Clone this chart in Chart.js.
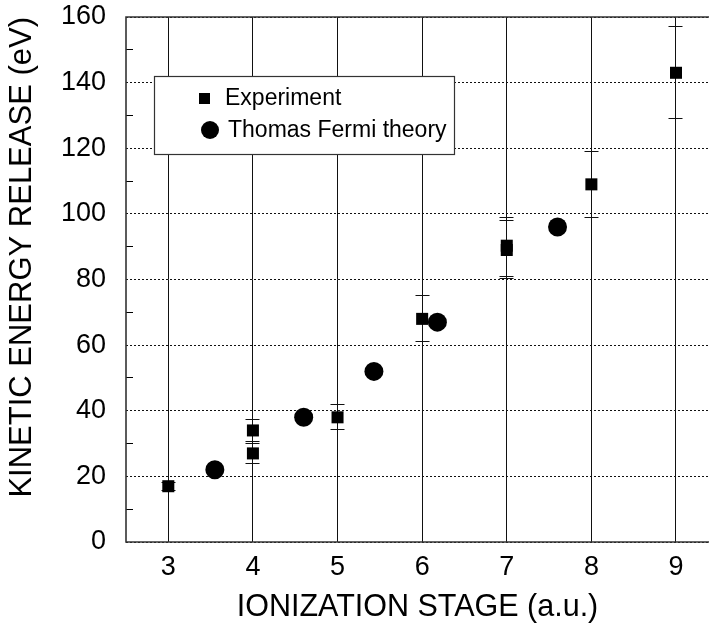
<!DOCTYPE html>
<html lang="en">

<head>
  <meta charset="UTF-8" />
  <title>Kinetic Energy Release</title>
  <script src="https://cdn.jsdelivr.net/npm/chart.js"></script>
  <style>
    * {
      margin: 0;
      padding: 0;
      box-sizing: border-box;
    }

    body {
      background: #fff;
      width: 709px;
      height: 626px;
      overflow: hidden;
    }
  </style>
</head>

<body>
  <canvas id="kerChart" width="709" height="626"></canvas>

  <script>
    // axis ticks
    const xTicks = [3, 4, 5, 6, 7, 8, 9];
    const yTicks = [0, 20, 40, 60, 80, 100, 120, 140, 160];
    const yMinorTicks = [10, 30, 50, 70, 90, 110, 130, 150];

    // experiment (squares) with error bars
    const expStage = [3, 4, 4, 5, 6, 7, 7, 8, 9];
    const expEnergy = [17, 34, 27, 38, 68, 89, 90.3, 109, 143];
    const expLow = [15.8, 30.6, 24, 34.2, 61, 80.2, 80.8, 98.9, 129];
    const expHigh = [18.2, 37.3, 30.1, 41.8, 75, 98, 98.8, 119, 157];

    // Thomas Fermi theory (circles)
    const tfStage = [3.55, 4.6, 5.43, 6.18, 7.6];
    const tfEnergy = [22, 38, 52, 67, 96];

    const FONT = '"Liberation Sans", Arial, Helvetica, sans-serif';

    // same snapping as the library's grid lines
    const snap = p => Math.round(p - 0.5) + 0.5;

    const framePlugin = {
      id: 'frame',
      beforeDatasetsDraw(chart) {
        const { ctx, chartArea: a, scales } = chart;
        ctx.save();
        // minor ticks on the left axis
        ctx.strokeStyle = '#000';
        ctx.lineWidth = 1;
        yMinorTicks.forEach(v => {
          const y = snap(scales.y.getPixelForValue(v));
          ctx.beginPath();
          ctx.moveTo(a.left, y);
          ctx.lineTo(a.left + 7, y);
          ctx.stroke();
        });
        // error bars
        ctx.strokeStyle = '#111';
        expStage.forEach((s, i) => {
          const x = snap(scales.x.getPixelForValue(s));
          const yl = snap(scales.y.getPixelForValue(expLow[i]));
          const yh = snap(scales.y.getPixelForValue(expHigh[i]));
          ctx.beginPath();
          ctx.moveTo(x, yl);
          ctx.lineTo(x, yh);
          ctx.moveTo(x - 7, yl);
          ctx.lineTo(x + 7, yl);
          ctx.moveTo(x - 7, yh);
          ctx.lineTo(x + 7, yh);
          ctx.stroke();
        });
        // frame: left, top, bottom
        ctx.strokeStyle = '#333';
        ctx.lineWidth = 1.6;
        ctx.beginPath();
        ctx.moveTo(chart.width, a.top);
        ctx.lineTo(a.left, a.top);
        ctx.lineTo(a.left, a.bottom);
        ctx.lineTo(chart.width, a.bottom);
        ctx.stroke();
        ctx.restore();
      },
      afterDatasetsDraw(chart) {
        const { ctx } = chart;
        const bx = 154, by = 76, bw = 300, bh = 78;
        ctx.save();
        ctx.fillStyle = '#fff';
        ctx.fillRect(bx, by, bw, bh);
        ctx.strokeStyle = '#333';
        ctx.lineWidth = 1.2;
        ctx.strokeRect(bx + 0.5, by + 0.5, bw, bh);
        ctx.fillStyle = '#000';
        // square entry
        ctx.fillRect(199, 93, 11, 11);
        // circle entry
        ctx.beginPath();
        ctx.arc(210, 130, 9, 0, Math.PI * 2);
        ctx.fill();
        ctx.font = '23px ' + FONT;
        ctx.textBaseline = 'middle';
        ctx.textAlign = 'left';
        ctx.fillText(chart.data.datasets[0].label, 225, 99);
        ctx.fillText(chart.data.datasets[1].label, 228, 131);
        ctx.restore();
      }
    };

    const ctx = document.getElementById('kerChart').getContext('2d');

    const kerChart = new Chart(ctx, {
      type: 'scatter',
      data: {
        datasets: [{
          label: 'Experiment',
          data: expStage.map((s, i) => ({ x: s, y: expEnergy[i] })),
          pointStyle: 'rect',
          pointRadius: 8.5,
          backgroundColor: '#000',
          borderColor: '#000',
          borderWidth: 0
        }, {
          label: 'Thomas Fermi theory',
          data: tfStage.map((s, i) => ({ x: s, y: tfEnergy[i] })),
          pointStyle: 'circle',
          pointRadius: 9.5,
          backgroundColor: '#000',
          borderColor: '#000',
          borderWidth: 0
        }]
      },
      options: {
        responsive: false,
        animation: false,
        devicePixelRatio: 1,
        layout: {
          autoPadding: false,
          padding: { top: 17, right: 0, bottom: 0, left: 0 }
        },
        plugins: {
          legend: { display: false },
          tooltip: { enabled: false }
        },
        scales: {
          x: {
            type: 'linear',
            min: 2.5,
            max: 9.39,
            afterBuildTicks: scale => { scale.ticks = xTicks.map(v => ({ value: v })); },
            afterFit: scale => {
              scale.height = 84;
              scale.paddingLeft = 0;
              scale.paddingRight = 0;
            },
            grid: { color: '#111', lineWidth: 1, drawTicks: false },
            border: { display: false },
            ticks: {
              color: '#000',
              padding: 9,
              font: { family: FONT, size: 27 }
            },
            title: {
              display: true,
              text: 'IONIZATION STAGE (a.u.)',
              color: '#000',
              padding: { top: 0, bottom: 0 },
              font: { family: FONT, size: 30.5 }
            }
          },
          y: {
            type: 'linear',
            min: 0,
            max: 160,
            afterBuildTicks: scale => { scale.ticks = yTicks.map(v => ({ value: v })); },
            afterFit: scale => {
              scale.width = 126;
              scale.paddingTop = 0;
              scale.paddingBottom = 0;
            },
            grid: { color: '#111', lineWidth: 1, drawTicks: false },
            border: { display: false, dash: [2, 2] },
            ticks: {
              color: '#000',
              padding: 20,
              font: { family: FONT, size: 27 }
            },
            title: {
              display: true,
              text: 'KINETIC ENERGY RELEASE (eV)',
              align: 'end',
              color: '#000',
              padding: { top: 4, bottom: 0 },
              font: { family: FONT, size: 31 }
            }
          }
        }
      },
      plugins: [framePlugin]
    });
  </script>

</body>

</html>
